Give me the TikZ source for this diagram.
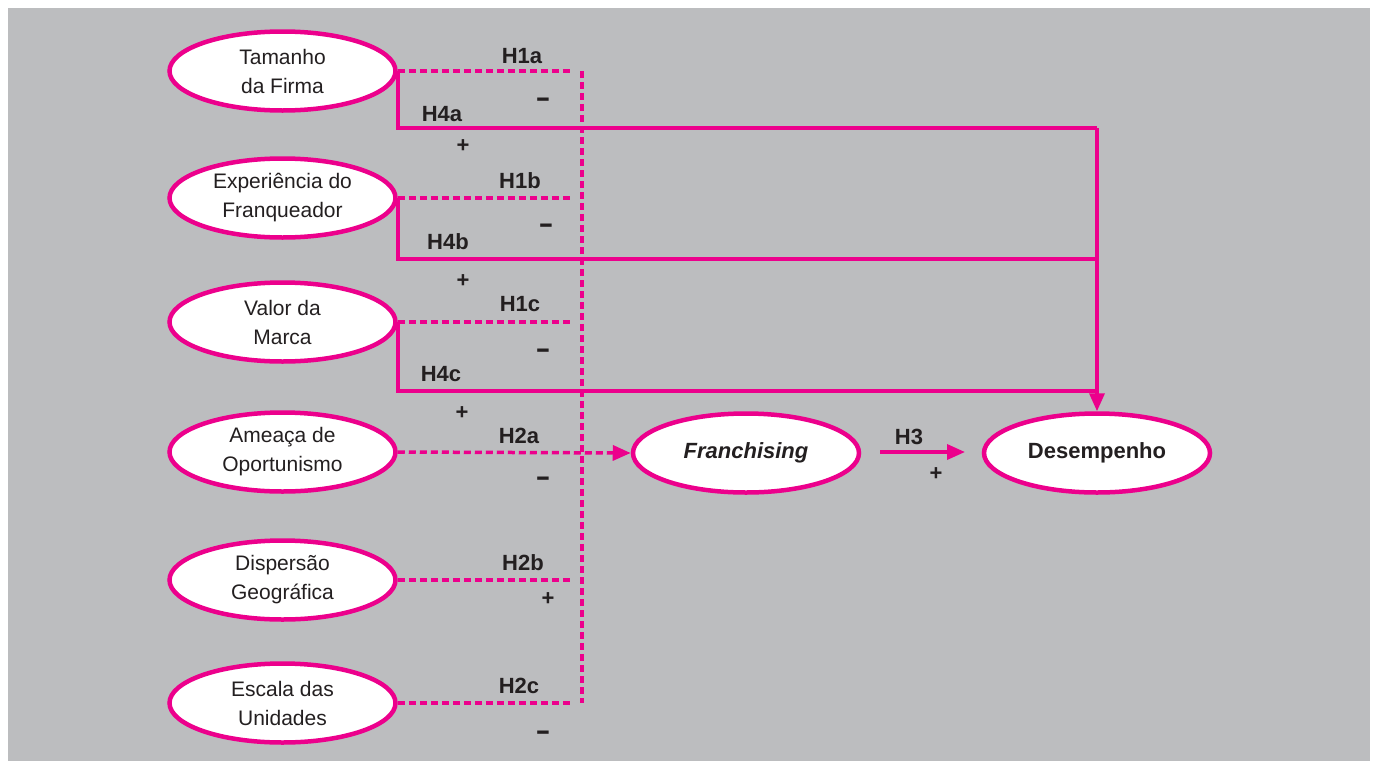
\documentclass[tikz,border=0pt]{standalone}
\usepackage{fontspec}
\usepackage{graphicx}
\setmainfont{Liberation Sans}
\usetikzlibrary{shapes.geometric,arrows.meta}
\definecolor{mag}{HTML}{EC008C}
\definecolor{bg}{HTML}{BCBDBF}
\definecolor{ink}{HTML}{231F20}
\newcommand{\mydash}{\scalebox{1.05}[1.5]{–}}
\begin{document}
\begin{tikzpicture}[x=1pt,y=-1pt,
  oval/.style={ellipse,draw=mag,line width=4.5pt,fill=white,minimum width=226pt,minimum height=79pt,inner sep=0pt,align=center,text=ink,font=\fontsize{21}{29}\selectfont},
  lbl/.style={inner sep=0pt,text=ink,font=\fontsize{22}{26}\selectfont\bfseries},
  solidline/.style={draw=mag,line width=3.5pt},
  dashline/.style={draw=mag,line width=3.5pt,dash pattern=on 7pt off 4pt},
  tip/.style={-{Triangle[length=18pt,width=15pt]}}
]
\useasboundingbox (0,0) rectangle (1373,761);
\fill[white] (0,0) rectangle (1373,761);
\fill[bg] (8,8) rectangle (1370,761);

% ellipses
\node[oval] (T) at (282.5,71) {Tamanho\\da Firma};
\node[oval] (E) at (282.5,198) {Experiência do\\Franqueador};
\node[oval] (V) at (282.5,322) {Valor da\\Marca};
\node[oval] (A) at (282.5,452) {Ameaça de\\Oportunismo};
\node[oval] (G) at (282.5,580) {Dispersão\\Geográfica};
\node[oval] (S) at (282.5,703) {Escala das\\Unidades};
\node[oval,font=\fontsize{22}{26}\selectfont\bfseries\itshape] (F) at (746,453) {Franchising};
\node[oval,font=\fontsize{22}{26}\selectfont\bfseries] (D) at (1097,453) {Desempenho};

% coordinates
\coordinate (c1) at (1097,128);
\coordinate (c2) at (1097,259);
\coordinate (c3) at (1097,391);
\coordinate (vtop) at (582,71);
\coordinate (vbot) at (582,703);
\coordinate (dT) at (573,71);
\coordinate (dE) at (573,198);
\coordinate (dV) at (573,322);
\coordinate (dG) at (573,580);
\coordinate (dS) at (573,703);
\coordinate (h3a) at (880,452);
\coordinate (h3b) at (965,452);

% solid lines to Desempenho
\draw[solidline] (T.east) |- (c1);
\draw[solidline] (E.east) |- (c2);
\draw[solidline] (V.east) |- (c3);
\draw[solidline,tip] (c1) -- (D.north);

% dashed lines to Franchising
\draw[dashline] (vtop) -- (vbot);
\draw[dashline] (T.east) -- (dT);
\draw[dashline] (E.east) -- (dE);
\draw[dashline] (V.east) -- (dV);
\draw[dashline] (G.east) -- (dG);
\draw[dashline] (S.east) -- (dS);
\draw[dashline,tip] (A.east) -- (F.west);

% H3
\draw[solidline,tip] (h3a) -- (h3b);

% labels
\node[lbl] (l1a) at (522,56) {H1a};
\node[lbl] (m1a) at (543,103) {\mydash};
\node[lbl] (l4a) at (442,114) {H4a};
\node[lbl] (p4a) at (463,146) {+};
\node[lbl] (l1b) at (520,181) {H1b};
\node[lbl] (m1b) at (546,229) {\mydash};
\node[lbl] (l4b) at (448,242) {H4b};
\node[lbl] (p4b) at (463,281) {+};
\node[lbl] (l1c) at (520,304) {H1c};
\node[lbl] (m1c) at (543,354) {\mydash};
\node[lbl] (l4c) at (441,374) {H4c};
\node[lbl] (p4c) at (462,413) {+};
\node[lbl] (l2a) at (519,436) {H2a};
\node[lbl] (m2a) at (543,482) {\mydash};
\node[lbl] (l2b) at (523,563) {H2b};
\node[lbl] (p2b) at (548,599) {+};
\node[lbl] (l2c) at (519,686) {H2c};
\node[lbl] (m2c) at (543,736) {\mydash};
\node[lbl] (l3) at (909,437) {H3};
\node[lbl] (p3) at (936,474) {+};
\end{tikzpicture}
\end{document}
